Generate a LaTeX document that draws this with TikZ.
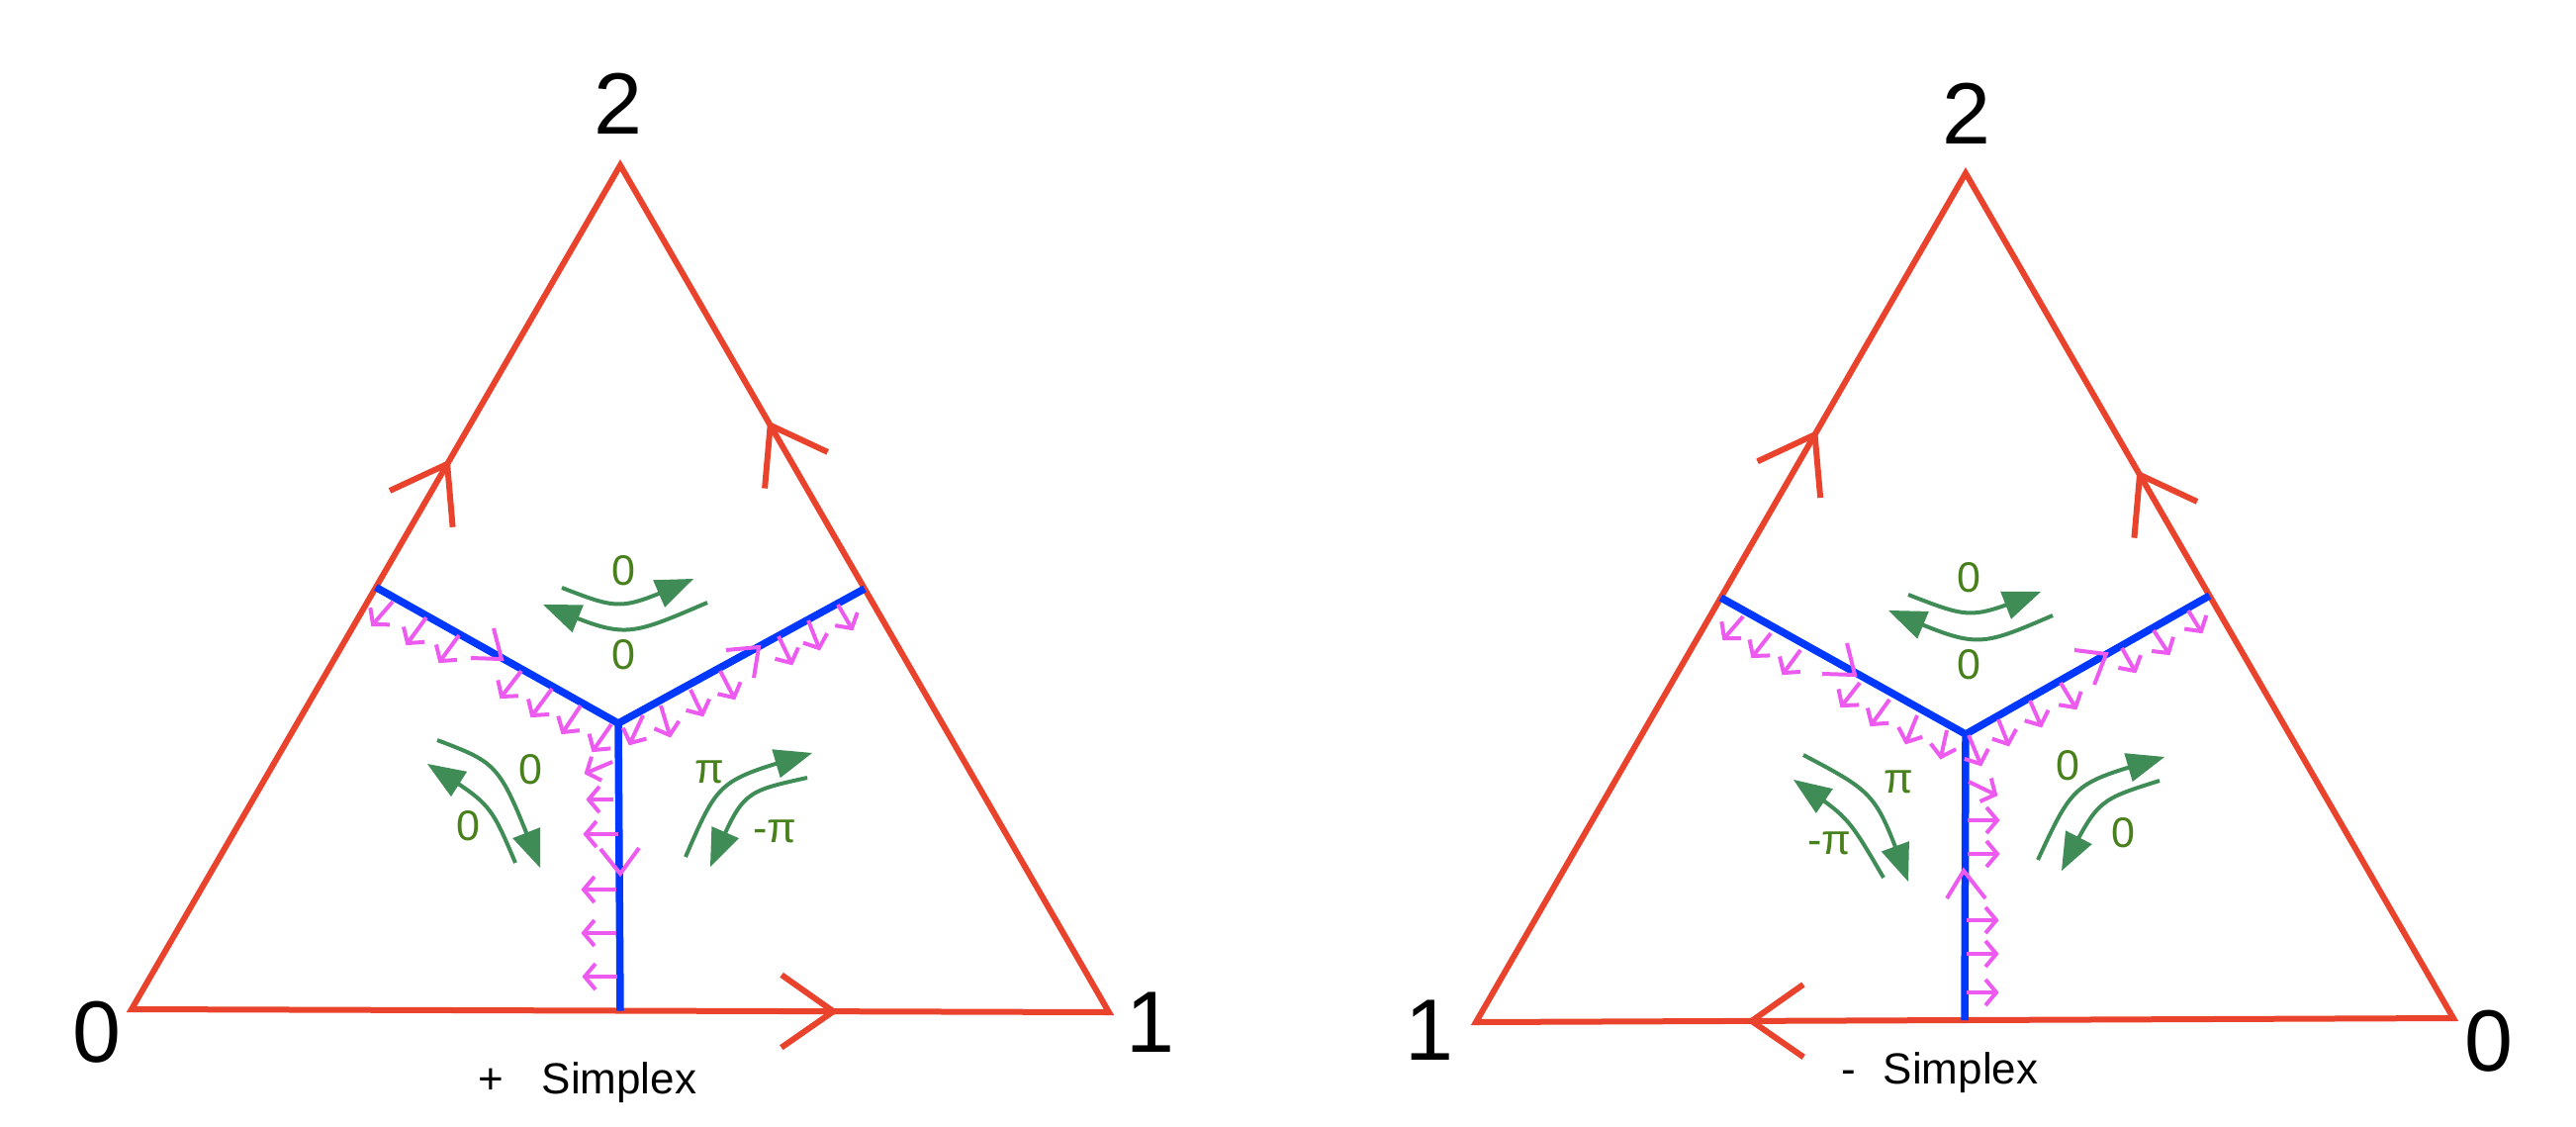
\documentclass[tikz,border=0pt]{standalone}
\usepackage{fontspec}
\setmainfont{Liberation Sans}
\usetikzlibrary{calc}
\definecolor{redc}{RGB}{234,67,45}
\definecolor{bluec}{RGB}{0,56,255}
\definecolor{magc}{RGB}{236,90,240}
\definecolor{grnc}{RGB}{64,140,86}
\definecolor{grntxt}{RGB}{72,128,28}
\newcommand\greenarrow[3]{%
  \draw[garc,shorten >=10pt] (#1) .. controls (#2) .. (#3);
  \coordinate (gb) at ($(#3)!38pt!(#2)$);
  \fill[grnc] (#3) -- ($(gb)!15pt!90:(#3)$) -- ($(gb)!15pt!-90:(#3)$) -- cycle;
}
\begin{document}
\begin{tikzpicture}[x=1pt,y=-1pt,
  redl/.style={draw=redc,line width=6pt},
  bluel/.style={draw=bluec,line width=7.5pt},
  mag/.style={draw=magc,line width=4pt},
  garc/.style={draw=grnc,line width=4pt},
  vlabel/.style={font=\fontsize{88}{88}\selectfont,inner sep=0pt,anchor=base},
  glabel/.style={text=grntxt,font=\fontsize{43}{43}\selectfont,inner sep=0pt,anchor=center},
  slabel/.style={font=\fontsize{44}{44}\selectfont,inner sep=0pt,anchor=base}]
\useasboundingbox (0,0) rectangle (2604,1138);

% ================= left triangle (+ simplex)
\coordinate (L0) at (133,1020);
\coordinate (L1) at (1121,1023);
\coordinate (L2) at (627,167);
\coordinate (LC) at (625,731);
\coordinate (LA) at ($(L0)!0.5!(L2)$);
\coordinate (LB) at ($(L1)!0.5!(L2)$);
\coordinate (LD) at ($(L0)!0.5!(L1)$);
\draw[redl] (L0) -- (L1) -- (L2) -- cycle;
\coordinate (La) at ($(L0)!0.646!(L2)$);
\coordinate (Lb) at ($(L1)!0.693!(L2)$);
\coordinate (Ld) at ($(L0)!0.718!(L1)$);
\draw[redl] ($(La)!64pt!35:(L0)$) -- (La) -- ($(La)!64pt!-35:(L0)$);
\draw[redl] ($(Lb)!64pt!35:(L1)$) -- (Lb) -- ($(Lb)!64pt!-35:(L1)$);
\draw[redl] ($(Ld)!64pt!35:(L0)$) -- (Ld) -- ($(Ld)!64pt!-35:(L0)$);
\draw[bluel] (LA) -- (LC) -- (LB);
\draw[bluel] (LC) -- (LD);

% magenta small arrows
\foreach \sx/\sy/\tx/\ty in {
  397/608/377/631, 431/624/412/650, 464/642/445/668, 527/678/507/704,
  558/696/538/723, 587/713/569/740, 618/732/600/758,
  650/723/637/751, 668/713/677/743, 698/697/710/722, 728/678/742/705,
  787/643/800/670, 817/627/828/655, 847/611/861/635,
  619/770/593/781, 620/808/595/808, 625/843/592/843, 623/899/590/899,
  623/943/590/943, 624/987/591/987}{
  \coordinate (ms) at (\sx,\sy);
  \coordinate (mt) at (\tx,\ty);
  \draw[mag] (ms) -- (mt);
  \draw[mag] ($(mt)!17pt!50:(ms)$) -- (mt) -- ($(mt)!17pt!-50:(ms)$);
}
% magenta chevrons on blue lines
\draw[mag] (499,635) -- (507,666) -- (476,665);
\draw[mag] (734,657) -- (767,654) -- (762,685);
\draw[mag] (607,858) -- (627,883) -- (646,857);

% green arrows
\greenarrow{568,594}{627.2,616.8}{701,585}
\greenarrow{715,609}{632,644.7}{549,611}
\greenarrow{442,748}{504.7,771.8}{546,877}
\greenarrow{521,872}{495.8,812.7}{432,772}
\greenarrow{693,866}{726.3,788.8}{821,761}
\greenarrow{816,786}{751,800.3}{718,876}
\node[glabel] (lg1) at (630,577) {0};
\node[glabel] (lg2) at (630,662) {0};
\node[glabel] (lg3) at (536,778) {0};
\node[glabel] (lg4) at (473,835) {0};
\node[glabel] (lg5) at (717,780) {π};
\node[glabel] (lg6) at (783,840) {-π};

\node[vlabel] (lv2) at (625,135) {2};
\node[vlabel] (lv0) at (98,1073) {0};
\node[vlabel] (lv1) at (1163,1063) {1};
\node[slabel] (lplus) at (496,1105) {+};
\node[slabel] (lsim) at (626,1105) {Simplex};

% ================= right triangle (- simplex)
\coordinate (R1) at (1492,1033);
\coordinate (R0) at (2480,1029);
\coordinate (R2) at (1987,175);
\coordinate (RC) at (1987,742);
\coordinate (RA) at ($(R1)!0.5!(R2)$);
\coordinate (RB) at ($(R0)!0.5!(R2)$);
\coordinate (RD) at ($(R0)!0.5!(R1)$);
\draw[redl] (R1) -- (R0) -- (R2) -- cycle;
\coordinate (Ra) at ($(R1)!0.692!(R2)$);
\coordinate (Rb) at ($(R0)!0.643!(R2)$);
\coordinate (Rd) at ($(R0)!0.718!(R1)$);
\draw[redl] ($(Ra)!64pt!35:(R1)$) -- (Ra) -- ($(Ra)!64pt!-35:(R1)$);
\draw[redl] ($(Rb)!64pt!35:(R0)$) -- (Rb) -- ($(Rb)!64pt!-35:(R0)$);
\draw[redl] ($(Rd)!64pt!35:(R0)$) -- (Rd) -- ($(Rd)!64pt!-35:(R0)$);
\draw[bluel] (RA) -- (RC) -- (RB);
\draw[bluel] (RC) -- (RD);

\foreach \sx/\sy/\tx/\ty in {
  1762/623/1743/645, 1790/640/1772/663, 1820/657/1803/680, 1880/690/1862/713,
  1910/707/1892/732, 1938/723/1927/750, 1968/738/1962/765,
  1990/743/2002/772, 2020/727/2030/752, 2052/708/2063/733, 2083/690/2098/715,
  2145/655/2158/678, 2177/637/2192/660, 2212/617/2225/638,
  1990/790/2017/803, 1989/829/2019/829, 1989/863/2019/863, 1988/930/2018/930,
  1988/964/2018/964, 1988/1003/2018/1003}{
  \coordinate (ms) at (\sx,\sy);
  \coordinate (mt) at (\tx,\ty);
  \draw[mag] (ms) -- (mt);
  \draw[mag] ($(mt)!17pt!50:(ms)$) -- (mt) -- ($(mt)!17pt!-50:(ms)$);
}
\draw[mag] (1867,650) -- (1875,682) -- (1842,681);
\draw[mag] (2097,657) -- (2129,661) -- (2117,692);
\draw[mag] (1968,908) -- (1985,880) -- (2007,908);

\greenarrow{1929,601}{1992,625.5}{2063,598}
\greenarrow{2075,622}{1998.7,654.8}{1909,617}
\greenarrow{1823,763}{1896,801.7}{1929,891}
\greenarrow{1904,887}{1868.5,826.2}{1813,788}
\greenarrow{2060,869}{2096,791.7}{2188,765}
\greenarrow{2183,789}{2120.8,808.5}{2084,880}
\node[glabel] (rg1) at (1990,584) {0};
\node[glabel] (rg2) at (1990,672) {0};
\node[glabel] (rg3) at (1919,790) {π};
\node[glabel] (rg4) at (1849,852) {-π};
\node[glabel] (rg5) at (2090,774) {0};
\node[glabel] (rg6) at (2146,842) {0};

\node[vlabel] (rv2) at (1988,145) {2};
\node[vlabel] (rv1) at (1445,1071) {1};
\node[vlabel] (rv0) at (2516,1082) {0};
\node[slabel] (rminus) at (1869,1095) {-};
\node[slabel] (rsim) at (1982,1095) {Simplex};
\end{tikzpicture}
\end{document}
